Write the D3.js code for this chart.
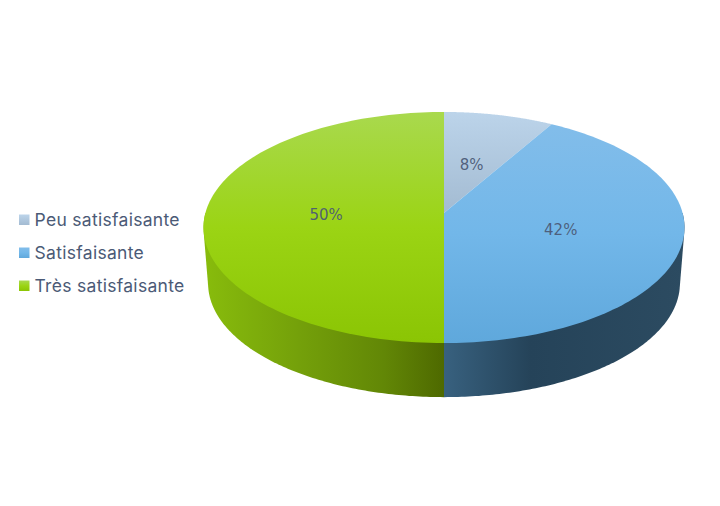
<!DOCTYPE html>
<html><head><meta charset="utf-8">
<script src="https://cdnjs.cloudflare.com/ajax/libs/d3/7.8.5/d3.min.js"></script>
<style>html,body{margin:0;background:#fff}svg{display:block}</style></head>
<body><svg id="c" width="720" height="506"></svg>
<script>
const categories = ["Peu satisfaisante", "Satisfaisante", "Très satisfaisante"];
const shares = [1, 5, 6];
const topStops = [
  [[0, "#bcd4ea"], [1, "#a3bbd2"]],
  [[0, "#82bdea"], [0.5, "#72b7e9"], [1, "#5fa8dc"]],
  [[0, "#a9d94e"], [0.5, "#9bd414"], [1, "#8bc504"]]
];
const wallStops = [
  [[0, "#9db6cc"], [1, "#7f97ad"]],
  [[0, "#38617f"], [0.36, "#254359"], [1, "#2c4b61"]],
  [[0, "#88bc0c"], [0.4, "#74a00a"], [0.75, "#628706"], [1, "#4e6900"]]
];
const textColor = "#4b5a76";

const svg = d3.select("#c"), defs = svg.append("defs");
const k = 0.1255;
const topX = d3.scaleLinear().domain([-1, 1]).range([444 - 238.6, 444 + 238.6]);
const topY = d3.scaleLinear().domain([-1, 1]).range([213 + 113.7, 213 - 113.7]);
const botX = d3.scaleLinear().domain([-1, 1]).range([444 - 234, 444 + 234]);
const botY = d3.scaleLinear().domain([-1, 1]).range([269.4 + 111.7, 269.4 - 111.7]);
const project = (sx, sy, a, r = 1) => {
  const x = r * Math.sin(a), y = r * Math.cos(a), w = 1 + k * y;
  return [sx(x / w), sy(y / w)];
};
const arcs = d3.pie().sort(null).value(d => d)(shares);
const total = d3.sum(shares), pct = d3.format(".0%");
const line = d3.line();
const samples = (a0, a1) => d3.range(0, 121).map(i => a0 + (a1 - a0) * i / 120);

arcs.forEach((d, i) => {
  const g = defs.append("linearGradient").attr("id", "top" + i).attr("x1", 0).attr("y1", 0).attr("x2", 0).attr("y2", 1);
  topStops[i].forEach(s => g.append("stop").attr("offset", s[0]).attr("stop-color", s[1]));
  const w = defs.append("linearGradient").attr("id", "wall" + i).attr("x1", 0).attr("y1", 0).attr("x2", 1).attr("y2", 0);
  wallStops[i].forEach(s => w.append("stop").attr("offset", s[0]).attr("stop-color", s[1]));
});

const front = arcs.map(d => [Math.max(d.startAngle, Math.PI / 2), Math.min(d.endAngle, Math.PI * 1.5)]);
svg.append("g").selectAll("path").data(arcs).join("path")
  .filter((d, i) => front[i][0] < front[i][1])
  .attr("fill", d => `url(#wall${d.index})`)
  .attr("d", d => {
    const s = samples(front[d.index][0], front[d.index][1]);
    const pts = [...s.map(a => project(topX, topY, a)), ...s.map(a => project(botX, botY, a))];
    return line(d3.polygonHull(pts)) + "Z";
  });

svg.append("g").selectAll("path").data(arcs).join("path")
  .attr("fill", d => `url(#top${d.index})`)
  .attr("d", d => line([project(topX, topY, 0, 0), ...samples(d.startAngle, d.endAngle).map(a => project(topX, topY, a))]) + "Z");

const labelNudge = [-1, 2, -1];
svg.append("g").selectAll("text").data(arcs).join("text")
  .attr("x", d => project(topX, topY, (d.startAngle + d.endAngle) / 2, 0.49)[0] + labelNudge[d.index])
  .attr("y", d => project(topX, topY, (d.startAngle + d.endAngle) / 2, 0.49)[1] + 2)
  .attr("dy", "0.36em").attr("text-anchor", "middle")
  .attr("font-family", "DejaVu Sans").attr("font-size", 15).attr("fill", textColor).attr("fill-opacity", 0.95)
  .text(d => pct(d.value / total));

const legend = svg.append("g").selectAll("g").data(categories).join("g")
  .attr("transform", (d, i) => `translate(19,${214.5 + i * 33})`);
legend.append("rect").attr("width", 10.5).attr("height", 10.5).attr("fill", (d, i) => `url(#top${i})`);
legend.append("text").attr("x", 15.5).attr("y", 11)
  .attr("font-family", "Inter").attr("font-size", 17.5).attr("letter-spacing", 0.3).attr("fill", textColor)
  .text(d => d);
</script></body></html>
